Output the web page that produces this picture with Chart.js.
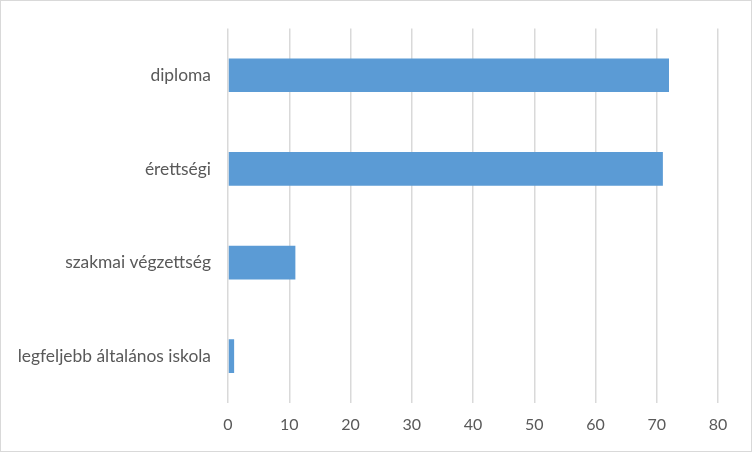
<!DOCTYPE html>
<html>
<head>
<meta charset="utf-8">
<script src="https://cdn.jsdelivr.net/npm/chart.js@4"></script>
<style>
  body { margin: 0; background: #fff; }
  #wrap { width: 752px; height: 452px; box-sizing: border-box; border: 1px solid #d9d9d9; position: relative; }
</style>
</head>
<body>
<div id="wrap"><canvas id="myChart" width="750" height="450"></canvas></div>
<script>
let categories = ['diploma', 'érettségi', 'szakmai végzettség', 'legfeljebb általános iskola'];
let values = [72, 71, 11, 1];
let xMin = 0;
let xMax = 80;
let xStep = 10;

let ctx = document.getElementById('myChart').getContext('2d');
let chart = new Chart(ctx, {
    type: 'bar',
    data: {
        labels: categories,
        datasets: [{
            data: values,
            backgroundColor: '#5b9bd5',
            borderWidth: 0,
            categoryPercentage: 1,
            barPercentage: 0.36
        }]
    },
    options: {
        indexAxis: 'y',
        responsive: false,
        animation: false,
        layout: { padding: { top: 18.5, right: 33, bottom: 0, left: 0 } },
        plugins: { legend: { display: false }, tooltip: { enabled: false } },
        scales: {
            x: {
                min: xMin,
                max: xMax,
                ticks: {
                    stepSize: xStep,
                    color: '#595959',
                    font: { family: 'Lato', size: 16 },
                    padding: 12
                },
                grid: { color: '#d9d9d9', lineWidth: 1.5, drawTicks: false },
                border: { display: false },
                afterFit: (scale) => { scale.height = 48; }
            },
            y: {
                ticks: {
                    color: '#595959',
                    font: { family: 'Lato', size: 17.4 },
                    padding: 17
                },
                grid: { display: false, drawTicks: false },
                border: { display: false },
                afterFit: (scale) => { scale.width = 227; }
            }
        }
    }
});
</script>
</body>
</html>
